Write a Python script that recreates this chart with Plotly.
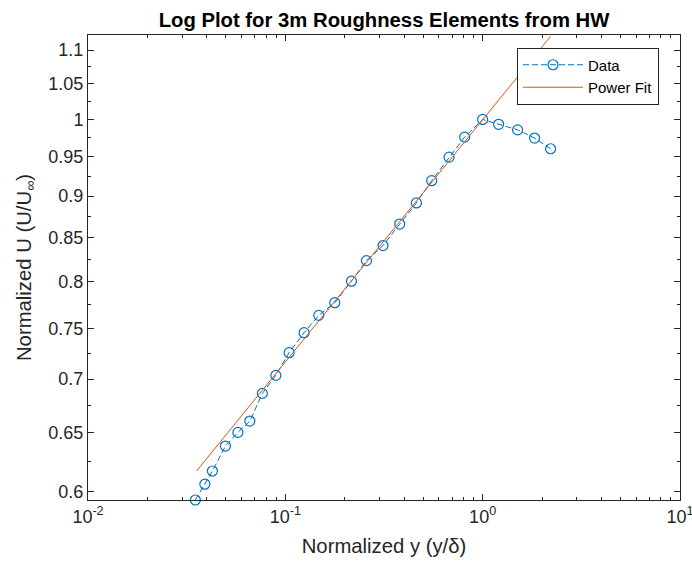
import math
import plotly.graph_objects as go

# Data
data_x = [0.0350, 0.0391, 0.0427, 0.0497, 0.0575, 0.0661, 0.0765, 0.0895, 0.1045,
          0.1245, 0.1477, 0.1781, 0.2163, 0.2577, 0.3127, 0.3799, 0.4616, 0.5518,
          0.6753, 0.8107, 1.0, 1.205, 1.503, 1.834, 2.210]
data_y = [0.5928, 0.6058, 0.6169, 0.6384, 0.6505, 0.6607, 0.6863, 0.7035, 0.7258,
          0.7460, 0.7640, 0.7774, 0.8007, 0.8237, 0.8409, 0.8661, 0.8916, 0.9193,
          0.9495, 0.9760, 1.0, 0.9933, 0.9858, 0.9747, 0.9605]

fit_x = [0.0355, 2.21]
fit_y = [0.6169, 1.121]

x_major = [0.01, 0.1, 1, 10]
x_major_text = ["10<sup>-2</sup>", "10<sup>-1</sup>", "10<sup>0</sup>", "10<sup>1</sup>"]
x_minor = [m * d for d in (0.01, 0.1, 1) for m in range(2, 10)]

y_major = [0.6, 0.65, 0.7, 0.75, 0.8, 0.85, 0.9, 0.95, 1.0, 1.05, 1.1]
y_major_text = ["0.6", "0.65", "0.7", "0.75", "0.8", "0.85", "0.9", "0.95", "1", "1.05", "1.1"]
y_minor = [0.625, 0.675, 0.725, 0.775, 0.825, 0.875, 0.925, 0.975, 1.025, 1.075]

FONT = "Liberation Sans, Arial, Helvetica, sans-serif"
AX = "#262626"

fig = go.Figure()
fig.add_trace(go.Scatter(
    x=data_x, y=data_y, name="Data", mode="lines+markers",
    line=dict(color="#0072BD", width=1, dash="6px,3px"),
    marker=dict(symbol="circle-open", size=10, color="#0072BD", line=dict(width=1.2)),
    cliponaxis=False,
))
fig.add_trace(go.Scatter(
    x=fit_x, y=fit_y, name="Power Fit", mode="lines",
    line=dict(color="#D95319", width=1),
))

fig.update_layout(
    width=692, height=568,
    margin=dict(l=88, r=12, t=35, b=68, autoexpand=False),
    paper_bgcolor="white", plot_bgcolor="white",
    font=dict(family=FONT, color=AX, size=18),
    title=dict(text="<b>Log Plot for 3m Roughness Elements from HW</b>",
               x=384 / 692, xanchor="center", y=1 - 20 / 568, yanchor="middle",
               yref="container", font=dict(family=FONT, size=20.3, color="black")),
    xaxis=dict(
        type="log", range=[-2, 1.0002], automargin=False,
        tickmode="array", tickvals=x_major, ticktext=x_major_text,
        ticks="inside", ticklen=6, tickwidth=1, tickcolor=AX,
        showline=True, linecolor=AX, linewidth=1, mirror="ticks",
        showgrid=False, zeroline=False, ticklabeloverflow="allow",
        tickfont=dict(size=18, color=AX),
        minor=dict(tickmode="array", tickvals=x_minor, ticks="inside",
                   ticklen=3, tickcolor=AX, showgrid=False),
        title=dict(text="Normalized y (y/δ)", font=dict(size=20.3, color=AX), standoff=13),
    ),
    yaxis=dict(
        type="log", range=[math.log10(0.5928), math.log10(1.123)], automargin=False,
        tickmode="array", tickvals=y_major, ticktext=y_major_text,
        ticks="inside", ticklen=6, tickwidth=1, tickcolor=AX,
        showline=True, linecolor=AX, linewidth=1, mirror="ticks",
        showgrid=False, zeroline=False,
        tickfont=dict(size=18, color=AX),
        minor=dict(tickmode="array", tickvals=y_minor, ticks="inside",
                   ticklen=3, tickcolor=AX, showgrid=False),
        title=dict(text="Normalized U (U/U<sub>∞</sub>)", font=dict(size=20.3, color=AX), standoff=11),
    ),
    legend=dict(
        x=(517 - 88) / 592, y=(500 - 76) / 465, xanchor="left", yanchor="middle",
        bgcolor="white", bordercolor=AX, borderwidth=1,
        font=dict(size=15, color="black"),
        itemwidth=60, tracegroupgap=0,
    ),
    showlegend=True,
)

fig.write_html("out.html")
